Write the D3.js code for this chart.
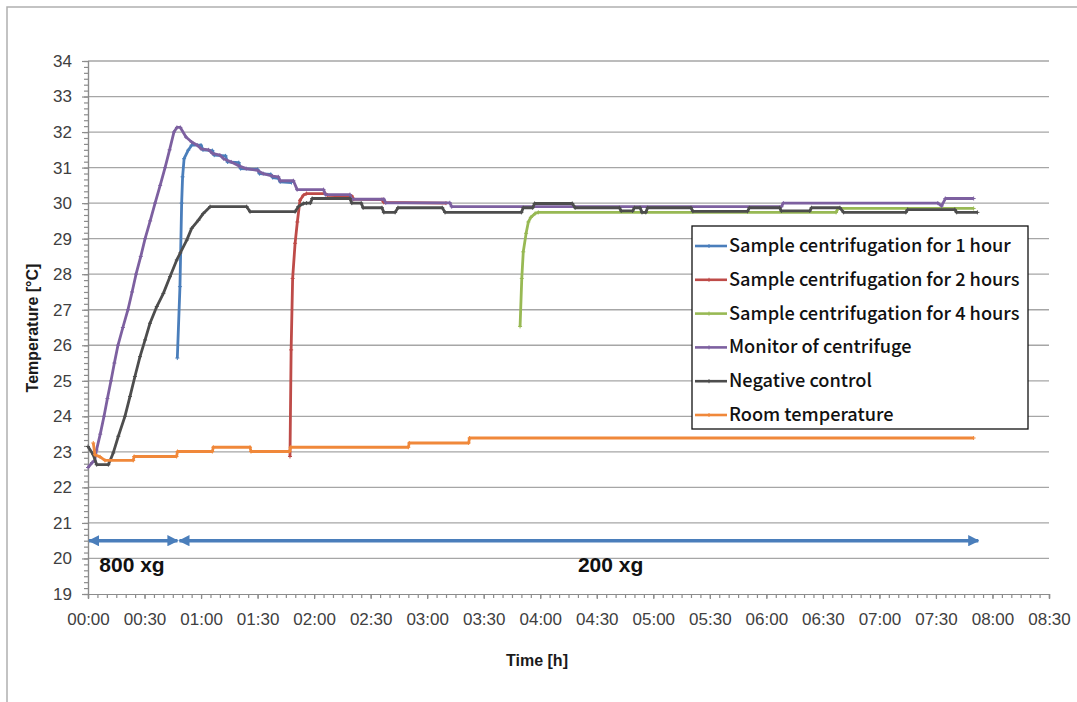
<!DOCTYPE html>
<html>
<head>
<meta charset="utf-8">
<script src="https://cdn.jsdelivr.net/npm/d3@7"></script>
<style>
  body { margin: 0; background: #fff; }
  svg { display: block; font-family: "Liberation Sans", Arial, sans-serif; }
</style>
</head>
<body>
<svg></svg>
<script>
// time in minutes, temperature in °C
var seriesNames = ["Sample centrifugation for 1 hour", "Sample centrifugation for 2 hours",
  "Sample centrifugation for 4 hours", "Monitor of centrifuge", "Negative control", "Room temperature"]
var seriesColors = ["#4a7ebb", "#be4b48", "#98b954", "#7d60a0", "#4d4d4d", "#f0883a"]

var oneHour = [[47.4,25.64],[48.8,27.65],[49.7,30.0],[50.2,30.74],[51,31.25],[53.2,31.49],[55,31.63],[60,31.63],
  [61,31.5],[66,31.48],[67,31.35],[73,31.33],[74,31.16],[80,31.14],[81,30.97],[90,30.95],[91,30.83],
  [97,30.81],[98,30.72],[101,30.7],[102,30.6],[108,30.58]]
var twoHours = [[107.2,22.87],[107.8,25.87],[108.6,27.88],[109.9,28.87],[111.1,29.47],[112.5,30.08],[114.3,30.22],
  [116,30.27],[126,30.27],[127,30.22],[140,30.2],[141,30.11],[156,30.1],[157,30.02],[190,30.0]]
var fourHours = [[229.3,26.53],[230.2,27.88],[231,28.63],[232.5,29.15],[233.7,29.47],[235,29.6],[237.3,29.71],
  [239,29.74],[397,29.74],[398,29.85],[470,29.85]]
var monitor = [[0,22.56],[2.2,22.7],[3.5,22.75],[4.5,23.05],[6.5,23.5],[8.5,24.0],[10.3,24.5],[12.2,25.0],
  [14,25.5],[15.9,26.0],[18.5,26.5],[21.2,27.0],[23.4,27.5],[25.5,28.0],[28,28.5],[30.3,29.0],[33,29.5],
  [35.6,30.0],[38.3,30.5],[40.9,31.0],[43.3,31.5],[45.6,32.0],[47.2,32.13],[49,32.13],
  [52,31.86],[55,31.72],[58,31.63],[60,31.53],[64,31.5],[66,31.4],[70,31.35],[72,31.25],[76,31.16],
  [80,31.05],[84,30.97],[90,30.92],[93,30.83],[98,30.76],[101,30.74],[102,30.63],[109,30.63],[111,30.38],
  [125,30.38],[126,30.24],[139,30.24],[140,30.11],[157,30.11],[158,30.01],[192,30.01],[193,29.9],
  [368,29.9],[369,30.0],[451,30.0],[453,29.92],[455,30.13],[470,30.13]]
var negative = [[0,23.15],[2.8,22.92],[4.6,22.64],[10.8,22.64],[13.4,22.97],[16.1,23.44],[19.6,24.0],[22.3,24.56],
  [24.9,25.12],[27.6,25.68],[30.3,26.15],[32.9,26.62],[36.5,27.09],[40,27.46],[43.5,27.93],[47.1,28.4],
  [49,28.6],[52.4,28.96],[55,29.29],[58.6,29.52],[61.2,29.71],[64.8,29.9],[84.2,29.9],[86,29.76],[109.9,29.76],
  [111.6,29.9],[114.3,29.99],[116,30.0],[118,30.0],[119,30.13],[139,30.13],[140,30.0],[145,30.0],[146,29.87],
  [156,29.87],[157,29.74],[163,29.74],[164.5,29.87],[188,29.87],[189.5,29.74],[230,29.74],[231,29.87],
  [236,29.87],[237,29.99],[257,29.99],[258.5,29.87],[282,29.87],[283,29.78],[289,29.78],[290,29.87],
  [293,29.87],[294,29.74],[296,29.74],[297,29.87],[320,29.87],[321,29.77],[350,29.77],[351,29.87],
  [367,29.87],[368,29.78],[383,29.78],[384,29.87],[399,29.87],[401,29.74],[434,29.74],[435,29.82],
  [460,29.82],[461,29.74],[472,29.74]]
var room = [[2.8,23.25],[3.7,22.92],[6.4,22.86],[9,22.76],[24,22.76],[24.5,22.87],[47,22.87],[47.5,23.01],
  [66,23.01],[66.5,23.13],[86,23.13],[86.5,23.01],[107,23.01],[107.5,23.13],[170,23.13],[170.5,23.25],
  [202,23.25],[202.5,23.39],[470,23.39]]
var allSeries = [oneHour, twoHours, fourHours, monitor, negative, room]

// speed phases: [start, end, label]
var phases = [[0, 48, "800 xg"], [48, 473, "200 xg"]]
var phaseLevel = 20.5

var svg = d3.select("svg").attr("width", 1077).attr("height", 702)

var plotL = 88, plotR = 1049, plotT = 61, plotB = 594

var x = d3.scaleLinear().domain([0, 510]).range([plotL, plotR])
var y = d3.scaleLinear().domain([19, 34]).range([plotB, plotT])

// outer frame
svg.append("path").attr("d", "M7,702 V7 H1077").attr("fill", "none").attr("stroke", "#b0b0b0").attr("stroke-width", 1.5)

// gridlines
svg.append("g").selectAll("line").data(d3.range(20, 35)).enter().append("line")
  .attr("x1", plotL).attr("x2", plotR)
  .attr("y1", d => y(d)).attr("y2", d => y(d))
  .attr("stroke", "#a6a6a6").attr("stroke-width", 1.3)

var fmt = m => d3.format("02")(Math.floor(m / 60)) + ":" + d3.format("02")(m % 60)

// x axis
svg.append("g").attr("transform", `translate(0,${plotB})`)
  .call(d3.axisBottom(x).tickValues(d3.range(0, 511, 5)).tickSize(4).tickFormat(""))
svg.append("g").attr("transform", `translate(0,${plotB})`)
  .call(d3.axisBottom(x).tickValues(d3.range(0, 511, 30)).tickSize(5).tickPadding(14).tickFormat(fmt))

// y axis
svg.append("g").attr("transform", `translate(${plotL},0)`)
  .call(d3.axisLeft(y).tickValues(d3.range(19 * 6, 34 * 6 + 1).map(v => v / 6)).tickSize(4).tickFormat(""))
svg.append("g").attr("transform", `translate(${plotL},0)`)
  .call(d3.axisLeft(y).tickValues(d3.range(19, 35)).tickSize(6).tickPadding(10))

svg.selectAll(".domain, .tick line").attr("stroke", "#8c8c8c").attr("stroke-width", 1.2)
svg.selectAll(".tick text").attr("font-size", 17).attr("fill", "#404040")
  .attr("font-family", "'Liberation Sans', Arial, sans-serif")

// axis titles
svg.append("text").attr("x", 537).attr("y", 666).attr("text-anchor", "middle")
  .attr("font-size", 16).attr("font-weight", "bold").attr("fill", "#1a1a1a").text("Time [h]")
svg.append("text").attr("transform", "translate(38,328) rotate(-90)").attr("text-anchor", "middle")
  .attr("font-size", 16).attr("font-weight", "bold").attr("fill", "#1a1a1a").text("Temperature [°C]")

// series
var line = d3.line().x(d => x(d[0])).y(d => y(d[1]))
allSeries.forEach(function(s, i) {
  var g = svg.append("g")
  g.append("path").datum(s).attr("d", line).attr("fill", "none")
    .attr("stroke", seriesColors[i]).attr("stroke-width", 2.8).attr("stroke-linejoin", "round")
  g.selectAll("path.m").data(s).enter().append("path").attr("class", "m")
    .attr("d", d => `M${x(d[0]) - 2},${y(d[1])}h4M${x(d[0])},${y(d[1]) - 2}v4`)
    .attr("stroke", seriesColors[i]).attr("stroke-width", 1)
})

// phase arrows
var defs = svg.append("defs")
defs.append("marker").attr("id", "ah").attr("viewBox", "0 0 10 10").attr("refX", 9).attr("refY", 5)
  .attr("markerWidth", 3.2).attr("markerHeight", 3.2).attr("orient", "auto-start-reverse")
  .append("path").attr("d", "M0,0 L10,5 L0,10 Z").attr("fill", "#4a7ebb")
phases.forEach(function(p) {
  svg.append("line").attr("x1", x(p[0]) + 1).attr("x2", x(p[1]) - 1)
    .attr("y1", y(phaseLevel)).attr("y2", y(phaseLevel))
    .attr("stroke", "#4a7ebb").attr("stroke-width", 3.5)
    .attr("marker-start", "url(#ah)").attr("marker-end", "url(#ah)")
})
svg.append("text").attr("x", x(6)).attr("y", 572).attr("font-size", 21).attr("font-weight", "bold")
  .attr("fill", "#111").text(phases[0][2])
svg.append("text").attr("x", x(260)).attr("y", 572).attr("font-size", 21).attr("font-weight", "bold")
  .attr("fill", "#111").text(phases[1][2])

// legend
var lg = svg.append("g").attr("transform", "translate(692,226)")
lg.append("rect").attr("width", 336).attr("height", 203).attr("fill", "#fff")
  .attr("stroke", "#111").attr("stroke-width", 1.3)
seriesNames.forEach(function(n, i) {
  var yy = 20 + i * 33.8
  lg.append("line").attr("x1", 3).attr("x2", 35).attr("y1", yy).attr("y2", yy)
    .attr("stroke", seriesColors[i]).attr("stroke-width", 2.6)
  lg.append("path").attr("d", `M17,${yy - 2}v4`).attr("stroke", seriesColors[i]).attr("stroke-width", 1)
  lg.append("text").attr("x", 37).attr("y", yy + 6).attr("font-size", 18.2)
    .attr("font-family", "'Noto Sans CJK SC', 'Noto Sans', sans-serif").attr("font-weight", 500)
    .attr("fill", "#111").text(n)
})
</script>
</body>
</html>
